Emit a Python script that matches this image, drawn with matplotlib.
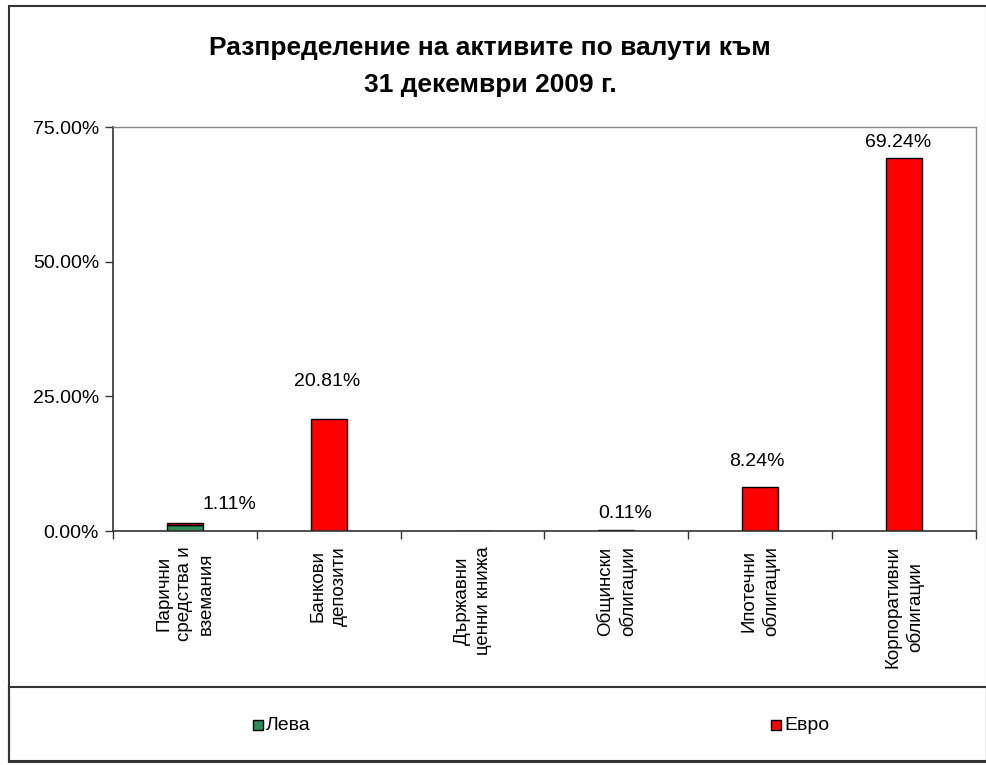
import matplotlib
matplotlib.use("Agg")
import matplotlib.pyplot as plt
from matplotlib.patches import Rectangle
from matplotlib.ticker import FixedLocator, FuncFormatter

plt.rcParams['font.family'] = ['Liberation Sans', 'DejaVu Sans']

categories = ["Парични\nсредства и\nвземания", "Банкови\nдепозити", "Държавни\nценни книжа",
              "Общински\nоблигации", "Ипотечни\nоблигации", "Корпоративни\nоблигации"]
leva = [1.11, 0.0, 0.0, 0.0, 0.0, 0.0]
evro = [0.40, 20.81, 0.0, 0.11, 8.24, 69.24]
labels = ["1.11%", "20.81%", "", "0.11%", "8.24%", "69.24%"]
label_offsets = [(45, 18), (-2, 37), (0, 0), (9, 17), (-3, 25), (-6, 16)]
yticks = [0, 25, 50, 75]
title = "Разпределение на активите по валути към\n31 декември 2009 г."

W, H = 987, 765
fig = plt.figure(figsize=(W / 100, H / 100), dpi=100)

# outer frame and legend box
fig.patches.append(Rectangle((9 / W, 1 - 762 / H), (W - 9) / W, (762 - 6) / H,
                             transform=fig.transFigure, fill=False, edgecolor='#333333', lw=1.5))
fig.patches.append(Rectangle((9 / W, 1 - 761 / H), (W - 9) / W, (761 - 687) / H,
                             transform=fig.transFigure, fill=False, edgecolor='#333333', lw=1.5))

ax = fig.add_axes([113 / W, 1 - 531 / H, (976 - 113) / W, (531 - 127) / H])
x = list(range(len(categories)))
ax.bar(x, leva, width=0.25, color='#2e8b57', edgecolor='black', linewidth=1, label='Лева')
ax.bar(x, evro, width=0.25, bottom=leva, color='#ff0000', edgecolor='black', linewidth=1, label='Евро')

for i, lab in enumerate(labels):
    if not lab:
        continue
    top = leva[i] + evro[i]
    ax.annotate(lab, (x[i], top), xytext=label_offsets[i], textcoords='offset pixels',
                ha='center', va='center', fontsize=14)

ax.set_xlim(-0.5, len(categories) - 0.5)
ax.set_ylim(0, 75)
ax.yaxis.set_major_locator(FixedLocator(yticks))
ax.yaxis.set_major_formatter(FuncFormatter(lambda v, p: f"{v:.2f}%"))
ax.tick_params(axis='y', direction='out', length=6, width=1, labelsize=14, pad=4, color='#333333')

ax.set_xticks(x)
ax.set_xticklabels(categories, rotation=90, fontsize=13.5, va='top', ha='center',
                   multialignment='center', linespacing=1.3)
ax.tick_params(axis='x', which='major', length=0, pad=11)
ax.set_xticks([i - 0.5 for i in range(len(categories) + 1)], minor=True)
ax.tick_params(axis='x', which='minor', direction='out', length=6, width=1, color='#333333')

for s in ['top', 'right']:
    ax.spines[s].set_color('#888888')
    ax.spines[s].set_linewidth(1)
for s in ['left', 'bottom']:
    ax.spines[s].set_color('#333333')
    ax.spines[s].set_linewidth(1.2)

fig.text(490 / W, 1 - 66.5 / H, title, ha='center', va='center', fontsize=19,
         fontweight='bold', linespacing=1.65)

handles, labs = ax.get_legend_handles_labels()
for h, l, px in zip(handles, labs, [258, 776]):
    fig.patches.append(Rectangle(((px - 5) / W, 1 - 730 / H), 10 / W, 10 / H,
                                 transform=fig.transFigure, facecolor=h.patches[0].get_facecolor(),
                                 edgecolor='black', lw=1))
    fig.text((px + 8) / W, 1 - 725 / H, l, ha='left', va='center', fontsize=14)

fig.savefig("out.png", dpi=100)
